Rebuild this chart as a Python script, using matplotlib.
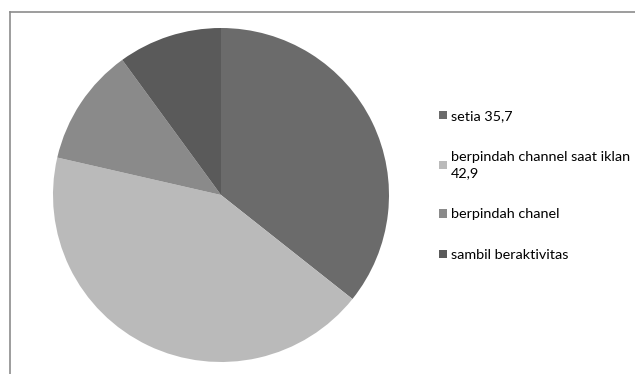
import matplotlib
matplotlib.use('Agg')
import matplotlib.pyplot as plt
from matplotlib.lines import Line2D
from matplotlib.patches import Patch

labels = ['setia 35,7', 'berpindah channel saat iklan\n42,9', 'berpindah chanel', 'sambil beraktivitas']
values = [35.7, 42.9, 11.4, 10.0]
colors = ['#6b6b6b', '#bababa', '#8a8a8a', '#5a5a5a']

plt.rcParams['font.family'] = ['Lato', 'DejaVu Sans']

fig = plt.figure(figsize=(6.35, 3.74), dpi=100)

# outer chart frame (only top and left edges visible)
fig.add_artist(Line2D([10/635, 1.0], [1-12/374, 1-12/374], color='#8c8c8c', lw=1.2))
fig.add_artist(Line2D([10/635, 10/635], [0, 1-12/374], color='#8c8c8c', lw=1.2))

ax = fig.add_axes([53/635, 12/374, 336/635, 334/374])
ax.pie(values, colors=colors, startangle=90, counterclock=False, radius=1,
       wedgeprops=dict(linewidth=0))
ax.set_xlim(-1, 1)
ax.set_ylim(-1, 1)
ax.set_aspect('auto')
ax.axis('off')

handles = [Patch(facecolor=c, edgecolor='none') for c in colors]
leg = fig.legend(handles, labels, loc='upper left', bbox_to_anchor=(439/635, 1-110/374),
                 frameon=False, fontsize=10.4, handlelength=0.55, handleheight=0.55,
                 handletextpad=0.25, labelspacing=2.0, borderaxespad=0, borderpad=0)
for t in leg.get_texts():
    t.set_linespacing(1.45)

fig.savefig('out.png', dpi=100)
